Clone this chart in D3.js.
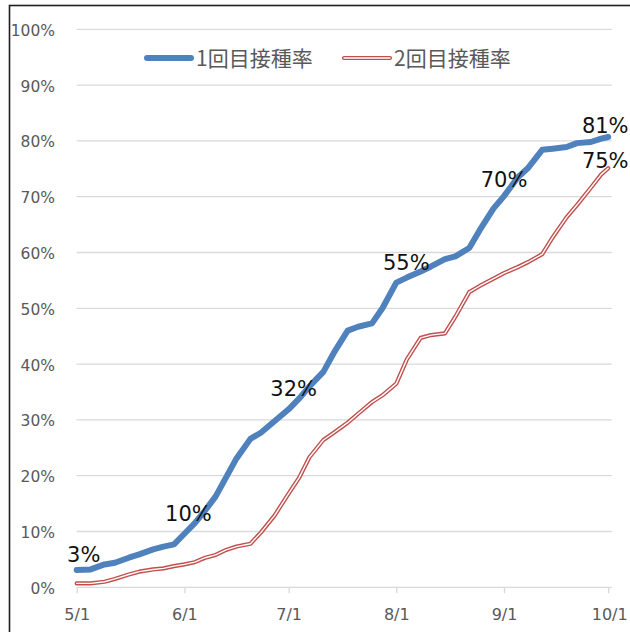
<!DOCTYPE html>
<html lang="ja">
<head>
<meta charset="UTF-8">
<title>接種率</title>
<script src="https://cdn.jsdelivr.net/npm/d3@7"></script>
<style>
    body { margin: 0; background: #fff; }
    svg { display: block; }
</style>
</head>
<body>
<svg width="630" height="632"></svg>
<script>
    // データ
    var dates = ["2021-05-01", "2021-05-05", "2021-05-09", "2021-05-12", "2021-05-16", "2021-05-19",
        "2021-05-23", "2021-05-26", "2021-05-29", "2021-06-01", "2021-06-04", "2021-06-07",
        "2021-06-10", "2021-06-13", "2021-06-16", "2021-06-20", "2021-06-23", "2021-06-27",
        "2021-07-01", "2021-07-04", "2021-07-07", "2021-07-11", "2021-07-14", "2021-07-18",
        "2021-07-21", "2021-07-25", "2021-07-28", "2021-08-01", "2021-08-04", "2021-08-08",
        "2021-08-11", "2021-08-15", "2021-08-18", "2021-08-22", "2021-08-25", "2021-08-29",
        "2021-09-01", "2021-09-05", "2021-09-08", "2021-09-12", "2021-09-15", "2021-09-19",
        "2021-09-22", "2021-09-26", "2021-09-29", "2021-10-01"];
    var dose1 = [3.1, 3.2, 4.1, 4.4, 5.3, 5.9, 6.8, 7.3, 7.7, 9.6, 11.5, 13.8,
        16.3, 19.7, 23.1, 26.6, 27.7, 29.8, 31.9, 33.8, 36.0, 38.6, 42.0, 46.0,
        46.7, 47.3, 50.0, 54.6, 55.5, 56.6, 57.5, 58.8, 59.3, 60.8, 64.0, 67.9,
        70.1, 73.5, 75.2, 78.4, 78.6, 78.9, 79.6, 79.8, 80.4, 80.7];
    var dose2 = [0.7, 0.7, 1.0, 1.5, 2.3, 2.8, 3.2, 3.4, 3.8, 4.1, 4.5, 5.3,
        5.8, 6.7, 7.3, 7.8, 9.8, 12.9, 16.8, 19.6, 23.3, 26.4, 27.7, 29.5,
        31.1, 33.2, 34.4, 36.5, 40.8, 44.7, 45.2, 45.5, 48.5, 52.9, 54.0, 55.3,
        56.3, 57.4, 58.3, 59.7, 62.7, 66.3, 68.5, 71.6, 74.0, 75.1];
    var seriesNames = ["1回目接種率", "2回目接種率"];
    var xTicks = ["2021-05-01", "2021-06-01", "2021-07-01", "2021-08-01", "2021-09-01", "2021-10-01"];
    var yTicks = [0, 10, 20, 30, 40, 50, 60, 70, 80, 90, 100];
    var labels1 = ["2021-05-01", "2021-06-01", "2021-07-01", "2021-08-01", "2021-09-01", "2021-10-01"];
    var labels2 = ["2021-10-01"];

    var parse = d3.timeParse("%Y-%m-%d");
    var fmtTick = d3.timeFormat("%-m/%-d");

    var svg = d3.select("svg");
    var font = "'DejaVu Sans', Verdana, sans-serif";
    var cjk = "'Noto Sans CJK JP', 'Noto Sans', sans-serif";

    // 外枠（右・下は切れている）
    svg.append("rect")
        .attr("x", 9.5).attr("y", 5.5)
        .attr("width", 700).attr("height", 700)
        .attr("fill", "none")
        .attr("stroke", "#1e1e1e")
        .attr("stroke-width", 1.6);

    var x = d3.scaleTime()
        .domain([parse("2021-05-01"), d3.timeDay.offset(parse("2021-10-01"), 1)])
        .range([76.7, 611.7]);
    var y = d3.scaleLinear().domain([0, 100]).range([587.3, 29.3]);

    // 目盛線
    svg.append("g").selectAll("line")
        .data(yTicks)
        .enter()
        .append("line")
        .attr("x1", x.range()[0]).attr("x2", x.range()[1])
        .attr("y1", d => y(d)).attr("y2", d => y(d))
        .attr("stroke", "#d9d9d9")
        .attr("stroke-width", 1.3);

    // Y軸ラベル
    svg.append("g").selectAll("text")
        .data(yTicks)
        .enter()
        .append("text")
        .attr("x", 55)
        .attr("y", d => y(d) + 1)
        .attr("dy", "0.36em")
        .attr("text-anchor", "end")
        .style("font-family", font)
        .style("font-size", "15.5px")
        .style("fill", "#595959")
        .text(d => d + "%");

    // X軸
    var xAxis = d3.axisBottom(x)
        .tickValues(xTicks.map(parse))
        .tickSize(6)
        .tickFormat(fmtTick);
    var gx = svg.append("g")
        .attr("transform", "translate(0," + y(0) + ")")
        .call(xAxis);
    gx.select(".domain").remove();
    gx.selectAll(".tick line").attr("stroke", "#d9d9d9").attr("stroke-width", 1.3);
    gx.selectAll(".tick text")
        .attr("y", 21)
        .attr("dy", "0.71em")
        .style("font-family", font)
        .style("font-size", "16px")
        .style("fill", "#595959")
        .attr("transform", function (d) {
            return d.getMonth() === 9 ? "translate(1,0)" : null;
        });

    var rows = dates.map((d, i) => ({ date: parse(d), v1: dose1[i], v2: dose2[i] }));

    var line1 = d3.line().x(d => x(d.date)).y(d => y(d.v1));
    var line2 = d3.line().x(d => x(d.date)).y(d => y(d.v2));

    // 2回目（二重線）
    svg.append("path")
        .datum(rows)
        .attr("d", line2)
        .attr("fill", "none")
        .attr("stroke", "#c0504d")
        .attr("stroke-width", 4.2)
        .attr("stroke-linejoin", "round")
        .attr("stroke-linecap", "round");
    svg.append("path")
        .datum(rows)
        .attr("d", line2)
        .attr("fill", "none")
        .attr("stroke", "#fff")
        .attr("stroke-width", 1.4)
        .attr("stroke-linejoin", "round")
        .attr("stroke-linecap", "round");

    // 1回目
    svg.append("path")
        .datum(rows)
        .attr("d", line1)
        .attr("fill", "none")
        .attr("stroke", "#4f81bd")
        .attr("stroke-width", 6)
        .attr("stroke-linejoin", "round")
        .attr("stroke-linecap", "round");

    // データラベル
    var dx1 = [7, 4, 5, 10, 0, -3];
    var dy1 = [-8, -13, -13, -13, -9, -4];
    var dx2 = [-3];
    var dy2 = [0];

    function addLabels(list, key, dxs, dys) {
        list.forEach(function (s, i) {
            var r = rows.find(d => +d.date === +parse(s));
            svg.append("text")
                .attr("x", x(r.date) + dxs[i])
                .attr("y", y(r[key]) + dys[i])
                .attr("text-anchor", "middle")
                .style("font-family", font)
                .style("font-size", "21px")
                .style("fill", "#111")
                .text(Math.round(r[key]) + "%");
        });
    }
    addLabels(labels1, "v1", dx1, dy1);
    addLabels(labels2, "v2", dx2, dy2);

    // 凡例
    var lg = svg.append("g");
    lg.append("line")
        .attr("x1", 147).attr("x2", 191).attr("y1", 58).attr("y2", 58)
        .attr("stroke", "#4f81bd").attr("stroke-width", 6).attr("stroke-linecap", "round");
    lg.append("text")
        .attr("x", 196).attr("y", 58).attr("dy", "0.36em")
        .style("font-family", cjk).style("font-size", "21px").style("fill", "#595959")
        .text(seriesNames[0]);
    lg.append("line")
        .attr("x1", 344).attr("x2", 390).attr("y1", 58).attr("y2", 58)
        .attr("stroke", "#c0504d").attr("stroke-width", 4.2).attr("stroke-linecap", "round");
    lg.append("line")
        .attr("x1", 344).attr("x2", 390).attr("y1", 58).attr("y2", 58)
        .attr("stroke", "#fff").attr("stroke-width", 1.4).attr("stroke-linecap", "round");
    lg.append("text")
        .attr("x", 394).attr("y", 58).attr("dy", "0.36em")
        .style("font-family", cjk).style("font-size", "21px").style("fill", "#595959")
        .text(seriesNames[1]);
</script>
</body>
</html>
